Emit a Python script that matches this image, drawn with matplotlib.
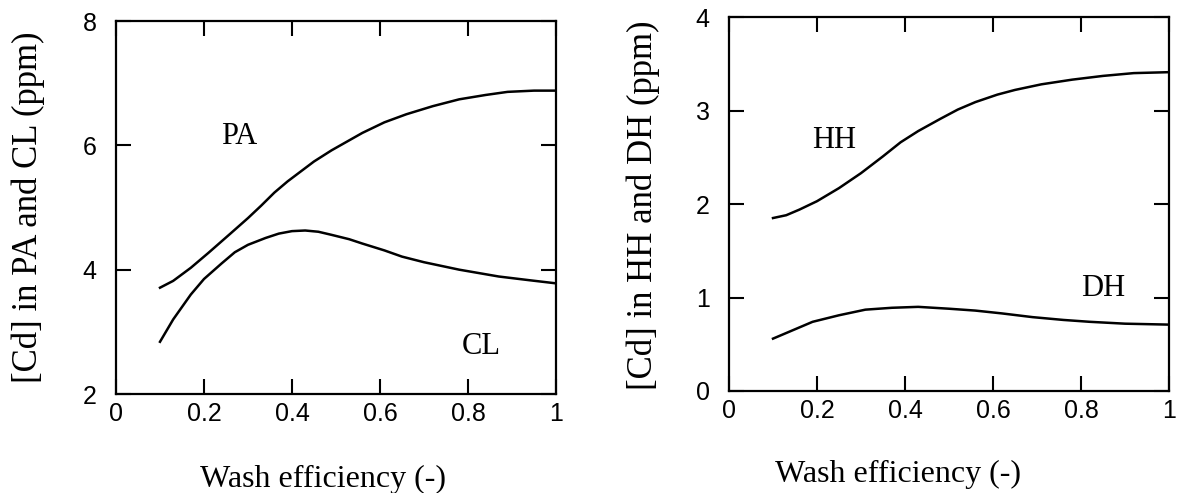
import matplotlib
matplotlib.use("Agg")
import matplotlib.pyplot as plt

# ---- DATA ----
pa_x = [0.10, 0.13, 0.17, 0.21, 0.26, 0.30, 0.33, 0.36, 0.39, 0.42, 0.45,
        0.49, 0.53, 0.56, 0.61, 0.66, 0.72, 0.78, 0.84, 0.89, 0.95, 1.00]
pa_y = [3.71, 3.82, 4.03, 4.27, 4.58, 4.83, 5.03, 5.24, 5.42, 5.58, 5.74,
        5.92, 6.08, 6.20, 6.37, 6.50, 6.63, 6.74, 6.81, 6.86, 6.88, 6.88]
cl_x = [0.10, 0.13, 0.17, 0.20, 0.24, 0.27, 0.30, 0.34, 0.37, 0.40, 0.43,
        0.46, 0.49, 0.53, 0.56, 0.61, 0.65, 0.70, 0.78, 0.87, 0.94, 1.00]
cl_y = [2.84, 3.20, 3.60, 3.85, 4.10, 4.28, 4.40, 4.51, 4.58, 4.62, 4.63,
        4.61, 4.56, 4.49, 4.42, 4.31, 4.21, 4.12, 4.00, 3.89, 3.83, 3.78]

hh_x = [0.10, 0.13, 0.16, 0.20, 0.25, 0.30, 0.35, 0.39, 0.43, 0.48,
        0.52, 0.56, 0.61, 0.65, 0.71, 0.78, 0.85, 0.92, 1.00]
hh_y = [1.85, 1.88, 1.94, 2.03, 2.17, 2.33, 2.51, 2.66, 2.78, 2.91,
        3.01, 3.09, 3.17, 3.22, 3.28, 3.33, 3.37, 3.40, 3.41]
dh_x = [0.10, 0.15, 0.19, 0.25, 0.31, 0.37, 0.43, 0.50, 0.56, 0.62,
        0.69, 0.76, 0.82, 0.90, 1.00]
dh_y = [0.56, 0.66, 0.74, 0.81, 0.87, 0.89, 0.90, 0.88, 0.86, 0.83,
        0.79, 0.76, 0.74, 0.72, 0.71]

x_ticks = [0, 0.2, 0.4, 0.6, 0.8, 1]
x_ticklabels = ["0", "0.2", "0.4", "0.6", "0.8", "1"]

SERIF = "Liberation Serif"
SANS = "Liberation Sans"

fig = plt.figure(figsize=(11.91, 4.93), dpi=100)
ax1 = fig.add_axes([0.0974, 0.2008, 0.3694, 0.7566])
ax2 = fig.add_axes([0.6121, 0.2069, 0.3694, 0.7586])


def style(ax, yticks, ylim):
    ax.set_xlim(0, 1)
    ax.set_ylim(*ylim)
    ax.set_xticks(x_ticks)
    ax.set_xticklabels(x_ticklabels)
    ax.set_yticks(yticks)
    ax.set_yticklabels([str(t) for t in yticks])
    ax.tick_params(direction="in", length=11, width=1.5, top=True, right=True,
                   labelsize=18)
    ax.tick_params(axis="x", pad=6)
    ax.tick_params(axis="y", pad=14)
    for lab in ax.get_xticklabels() + ax.get_yticklabels():
        lab.set_fontfamily(SANS)
    for sp in ax.spines.values():
        sp.set_linewidth(1.6)


# ---- LEFT PANEL ----
ax1.plot(pa_x, pa_y, color="black", lw=1.8)
ax1.plot(cl_x, cl_y, color="black", lw=1.8)
style(ax1, [2, 4, 6, 8], (2, 8))
ax1.text(0.28, 6.14, "PA", fontsize=22, family=SERIF, ha="center", va="center")
ax1.text(0.83, 2.76, "CL", fontsize=22, family=SERIF, ha="center", va="center")
ax1.set_ylabel("[Cd] in PA and CL (ppm)", fontsize=25, family=SERIF)
ax1.yaxis.set_label_coords(-0.161, 0.5)
ax1.set_xlabel("Wash efficiency (-)", fontsize=23, family=SERIF)
ax1.xaxis.set_label_coords(0.47, -0.19)

# ---- RIGHT PANEL ----
ax2.plot(hh_x, hh_y, color="black", lw=1.8)
ax2.plot(dh_x, dh_y, color="black", lw=1.8)
style(ax2, [0, 1, 2, 3, 4], (0, 4))
ax2.text(0.24, 2.68, "HH", fontsize=22, family=SERIF, ha="center", va="center")
ax2.text(0.85, 1.10, "DH", fontsize=22, family=SERIF, ha="center", va="center")
ax2.set_ylabel("[Cd] in HH and DH (ppm)", fontsize=25, family=SERIF)
ax2.yaxis.set_label_coords(-0.157, 0.497)
ax2.set_xlabel("Wash efficiency (-)", fontsize=23, family=SERIF)
ax2.xaxis.set_label_coords(0.384, -0.184)

fig.savefig("out.png", dpi=100)
